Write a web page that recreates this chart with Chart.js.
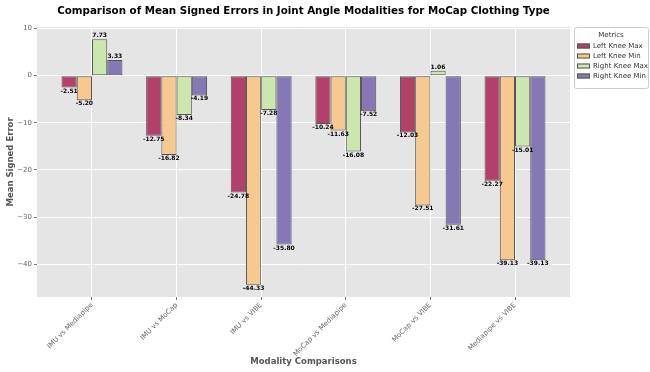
<!DOCTYPE html>
<html>
<head>
<meta charset="utf-8">
<script src="https://cdn.jsdelivr.net/npm/chart.js@4.4.0/dist/chart.umd.min.js"></script>
<style>
  html, body { margin: 0; padding: 0; background: #ffffff; }
  #wrap { width: 650px; height: 372px; position: relative; }
</style>
</head>
<body>
<div id="wrap"><canvas id="c" width="650" height="372"></canvas></div>
<script>
const TITLE = 'Comparison of Mean Signed Errors in Joint Angle Modalities for MoCap Clothing Type';
const CATEGORIES = ['IMU vs Mediapipe', 'IMU vs MoCap', 'IMU vs VIBE', 'MoCap vs Mediapipe', 'MoCap vs VIBE', 'Mediapipe vs VIBE'];
const SERIES_NAMES = ['Left Knee Max', 'Left Knee Min', 'Right Knee Max', 'Right Knee Min'];
const LEFT_KNEE_MAX = [-2.51, -12.75, -24.78, -10.24, -12.03, -22.27];
const LEFT_KNEE_MIN = [-5.20, -16.82, -44.33, -11.63, -27.51, -39.13];
const RIGHT_KNEE_MAX = [7.73, -8.34, -7.28, -16.08, 1.06, -15.01];
const RIGHT_KNEE_MIN = [3.33, -4.19, -35.80, -7.52, -31.61, -39.13];
const Y_TICKS = [10, 0, -10, -20, -30, -40];
const COLORS = ['#b3406b', '#f5c990', '#cce6b0', '#8678b5'];

const SERIES = [LEFT_KNEE_MAX, LEFT_KNEE_MIN, RIGHT_KNEE_MAX, RIGHT_KNEE_MIN];
const FONT = "'DejaVu Sans', sans-serif";

const datasets = SERIES.map((vals, i) => ({
  label: SERIES_NAMES[i],
  data: vals.map((v, j) => ({ x: j, y: v })),
  backgroundColor: COLORS[i],
  borderColor: '#555555',
  borderWidth: 1,
  borderSkipped: false,
  barPercentage: 1.0,
  categoryPercentage: 0.72
}));

const bgPlugin = {
  id: 'bg',
  beforeDraw(chart) {
    const { ctx, chartArea: a } = chart;
    ctx.save();
    ctx.fillStyle = '#e5e5e5';
    ctx.fillRect(a.left, a.top, a.right - a.left, a.bottom - a.top);
    ctx.restore();
  }
};

const labelPlugin = {
  id: 'vlabels',
  afterDatasetsDraw(chart) {
    const ctx = chart.ctx;
    ctx.save();
    ctx.font = "bold 6px " + FONT;
    ctx.fillStyle = '#000';
    ctx.textAlign = 'center';
    chart.data.datasets.forEach((ds, i) => {
      const meta = chart.getDatasetMeta(i);
      meta.data.forEach((bar, j) => {
        const v = ds.data[j].y;
        const txt = v.toFixed(2);
        if (v < 0) { ctx.textBaseline = 'top'; ctx.fillText(txt, bar.x, bar.y + 0.5); }
        else { ctx.textBaseline = 'bottom'; ctx.fillText(txt, bar.x, bar.y - 0.5); }
      });
    });
    ctx.restore();
  }
};

const legendPlugin = {
  id: 'customLegend',
  afterDraw(chart) {
    const ctx = chart.ctx;
    const x0 = 574, y0 = 27, w = 74, h = 61;
    ctx.save();
    ctx.fillStyle = '#ffffff';
    ctx.strokeStyle = '#cccccc';
    ctx.lineWidth = 1;
    ctx.beginPath();
    ctx.roundRect(x0 + 0.5, y0 + 0.5, w, h, 2);
    ctx.fill();
    ctx.stroke();
    ctx.fillStyle = '#333';
    ctx.font = "7px " + FONT;
    ctx.textAlign = 'center';
    ctx.textBaseline = 'middle';
    ctx.fillText('Metrics', x0 + w / 2, y0 + 8);
    ctx.textAlign = 'left';
    chart.data.datasets.forEach((ds, i) => {
      const yy = y0 + 19 + i * 10;
      ctx.fillStyle = ds.backgroundColor;
      ctx.fillRect(x0 + 3, yy - 2.5, 13, 5);
      ctx.strokeStyle = '#555';
      ctx.strokeRect(x0 + 3.5, yy - 2, 12, 4);
      ctx.fillStyle = '#333';
      ctx.fillText(ds.label, x0 + 19, yy);
    });
    ctx.restore();
  }
};

new Chart(document.getElementById('c'), {
  type: 'bar',
  data: { datasets },
  plugins: [bgPlugin, labelPlugin, legendPlugin],
  options: {
    responsive: false,
    animation: false,
    devicePixelRatio: 1,
    layout: { padding: { left: 0, right: 80, top: 0, bottom: 0 } },
    plugins: {
      legend: { display: false },
      tooltip: { enabled: false },
      title: {
        display: true,
        text: TITLE,
        fullSize: false,
        color: '#000',
        font: { family: FONT, size: 10.3, weight: 'bold' },
        padding: { top: 5.5, bottom: 9.1 }
      }
    },
    scales: {
      x: {
        type: 'linear',
        offset: false,
        min: -0.65,
        max: 5.65,
        afterBuildTicks(scale) { scale.ticks = CATEGORIES.map((_, i) => ({ value: i })); },
        afterFit(scale) { scale.height = 75; },
        border: { display: false },
        grid: { offset: false, color: '#ffffff', lineWidth: 1, tickColor: '#777', tickLength: 3, drawOnChartArea: true },
        ticks: {
          autoSkip: false,
          minRotation: 45,
          maxRotation: 45,
          padding: 1,
          color: '#666',
          font: { family: FONT, size: 7 },
          callback: (v) => CATEGORIES[v] !== undefined ? CATEGORIES[v] : ''
        },
        title: {
          display: true,
          text: 'Modality Comparisons',
          color: '#555',
          font: { family: FONT, size: 8.5, weight: 'bold' },
          padding: { top: 0, bottom: 5 }
        }
      },
      y: {
        min: -46.93,
        max: 10.33,
        afterBuildTicks(scale) { scale.ticks = Y_TICKS.map(v => ({ value: v })); },
        afterFit(scale) { scale.width = 37; },
        border: { display: false },
        grid: { color: 'rgba(255,255,255,0.9)', lineWidth: 1, tickColor: '#777', tickLength: 3 },
        ticks: {
          padding: 2,
          color: '#666',
          font: { family: FONT, size: 7 },
          callback: (v) => String(v).replace('-', '\u2212')
        },
        title: {
          display: true,
          text: 'Mean Signed Error',
          color: '#555',
          font: { family: FONT, size: 8.5, weight: 'bold' },
          padding: { top: 6, bottom: 2 }
        }
      }
    }
  }
});
</script>
</body>
</html>
